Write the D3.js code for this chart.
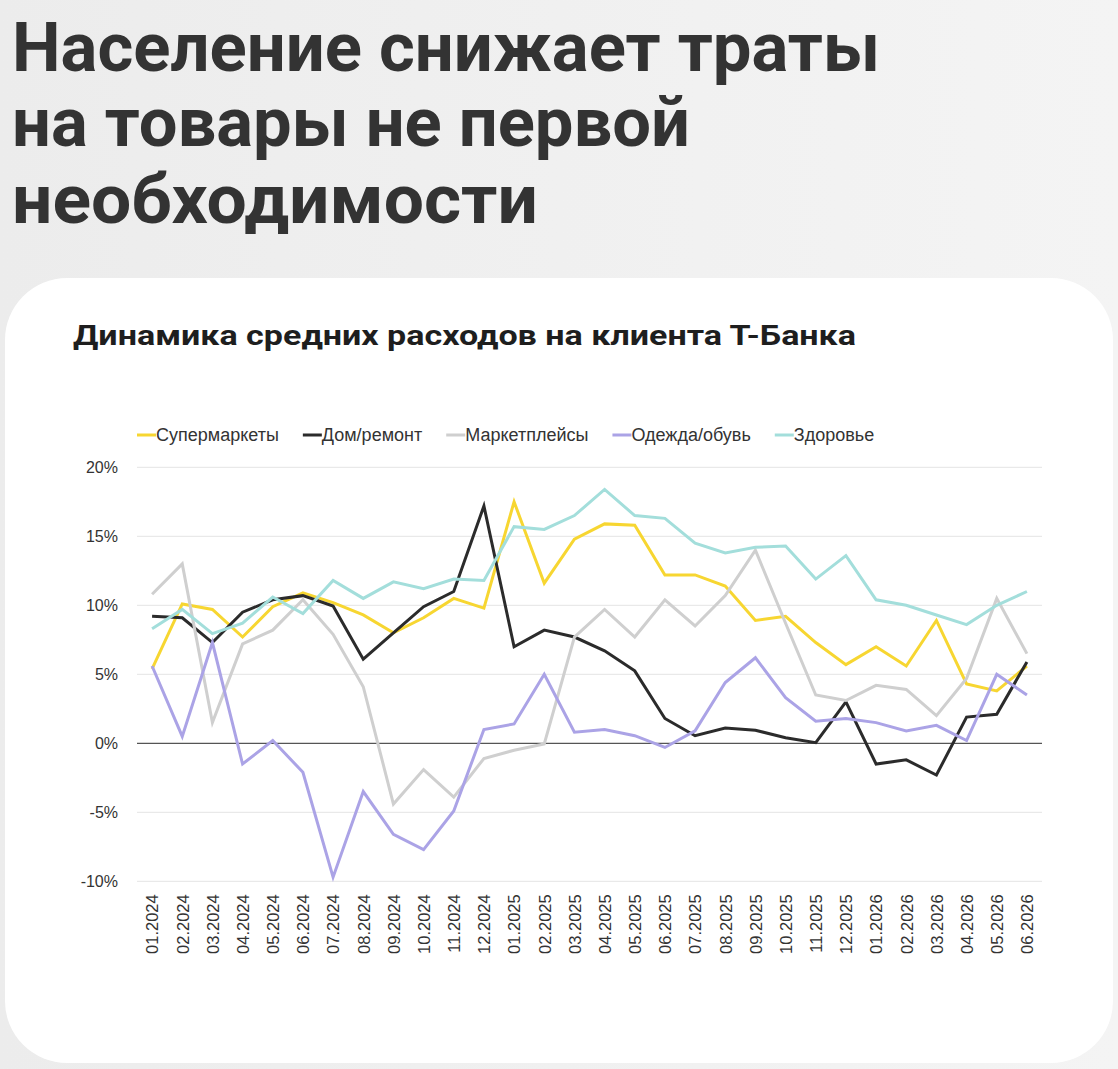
<!DOCTYPE html>
<html><head><meta charset="utf-8">
<script src="https://cdn.jsdelivr.net/npm/d3@7"></script>
<style>
html,body{margin:0;padding:0;background:#eeeeee;}
svg{display:block;}
</style></head>
<body>
<svg id="c" width="1118" height="1069"></svg>
<script>
const months = ["01.2024","02.2024","03.2024","04.2024","05.2024","06.2024","07.2024","08.2024","09.2024","10.2024","11.2024","12.2024",
"01.2025","02.2025","03.2025","04.2025","05.2025","06.2025","07.2025","08.2025","09.2025","10.2025","11.2025","12.2025",
"01.2026","02.2026","03.2026","04.2026","05.2026","06.2026"];
const seriesNames = ["Супермаркеты","Дом/ремонт","Маркетплейсы","Одежда/обувь","Здоровье"];
const supermarkets = [5.4,10.1,9.7,7.7,9.9,10.9,10.2,9.3,8.0,9.1,10.5,9.8,17.5,11.6,14.8,15.9,15.8,12.2,12.2,11.4,8.9,9.2,7.3,5.7,7.0,5.6,8.9,4.3,3.8,5.6];
const homeRepair = [9.2,9.1,7.3,9.5,10.4,10.7,9.95,6.1,8.0,9.9,11.0,17.2,7.0,8.2,7.7,6.7,5.25,1.8,0.55,1.1,0.95,0.4,0.05,3.0,-1.5,-1.2,-2.3,1.9,2.1,5.9];
const marketplaces = [10.8,13.0,1.5,7.2,8.2,10.4,7.9,4.1,-4.4,-1.9,-3.9,-1.1,-0.5,-0.05,7.7,9.7,7.7,10.4,8.5,10.7,14.0,8.7,3.5,3.1,4.2,3.9,2.0,4.7,10.5,6.5];
const clothes = [5.6,0.5,7.3,-1.5,0.2,-2.1,-9.7,-3.5,-6.6,-7.7,-4.9,1.0,1.4,5.0,0.8,1.0,0.55,-0.3,0.9,4.4,6.2,3.3,1.6,1.8,1.5,0.9,1.3,0.2,5.0,3.5];
const health = [8.3,9.7,7.95,8.7,10.6,9.4,11.8,10.5,11.7,11.2,11.9,11.8,15.7,15.5,16.5,18.4,16.5,16.3,14.5,13.8,14.2,14.3,11.9,13.6,10.4,10.0,9.3,8.6,10.0,11.0];
const yTicks = [-10,-5,0,5,10,15,20];
const titleLines = ["Население снижает траты","на товары не первой","необходимости"];
const subtitle = "Динамика средних расходов на клиента Т-Банка";

const colors = ["#f7d631","#2b2b2b","#cfcfcf","#aba3e6","#a3dedb"];
const seriesValues = [supermarkets, homeRepair, marketplaces, clothes, health];

const svg = d3.select("#c");
const defs = svg.append("defs");
const g = defs.append("linearGradient").attr("id","bg").attr("x1","0").attr("y1","0").attr("x2","1").attr("y2","0");
g.append("stop").attr("offset","0").attr("stop-color","#ececec");
g.append("stop").attr("offset","1").attr("stop-color","#f4f4f4");
svg.append("rect").attr("width",1118).attr("height",1069).attr("fill","url(#bg)");

// title
const titleW = [868, 678, 526];
const titleY = [71, 146, 223];
svg.append("g").selectAll("text").data(titleLines).join("text")
  .attr("x",12).attr("y",(d,i)=>titleY[i])
  .attr("textLength",(d,i)=>titleW[i]).attr("lengthAdjust","spacingAndGlyphs")
  .attr("font-family","Roboto, 'Noto Sans', sans-serif").attr("font-weight",700)
  .attr("font-size",68).attr("fill","#333333").text(d=>d);

// card
svg.append("rect").attr("x",5).attr("y",278).attr("width",1108).attr("height",785)
  .attr("rx",62).attr("ry",62).attr("fill","#ffffff");

svg.append("text").attr("x",73).attr("y",345).attr("textLength",783).attr("lengthAdjust","spacingAndGlyphs")
  .attr("font-family","Roboto, 'Noto Sans', sans-serif").attr("font-weight",700)
  .attr("font-size",28).attr("fill","#1e1e1e").text(subtitle);

// scales
const x = d3.scalePoint().domain(months).range([137,1042]).padding(0.5);
const y = d3.scaleLinear().domain([-10,20]).range([881.3,467.3]);

// grid
svg.append("g").selectAll("line").data(yTicks.filter(t=>t!==0)).join("line")
  .attr("x1",137).attr("x2",1042).attr("y1",d=>y(d)).attr("y2",d=>y(d))
  .attr("stroke","#e9e9e9").attr("stroke-width",1.2);

// y axis
const yAxis = svg.append("g").attr("transform","translate(137,0)")
  .call(d3.axisLeft(y).tickValues(yTicks).tickFormat(d=>d+"%").tickSize(0).tickPadding(19));
yAxis.select(".domain").remove();
yAxis.selectAll("text").attr("font-family","'Liberation Sans', Arial, sans-serif").attr("font-size",16).attr("fill","#333");

// x axis
const xAxis = svg.append("g").attr("transform","translate(0,881.3)")
  .call(d3.axisBottom(x).tickSize(0).tickPadding(0));
xAxis.select(".domain").remove();
xAxis.selectAll("text")
  .attr("font-family","'Liberation Sans', Arial, sans-serif").attr("font-size",16.5).attr("fill","#333")
  .attr("text-anchor","end").attr("transform","translate(0,13) rotate(-90)")
  .attr("x",0).attr("y",0).attr("dy","0.35em");

// zero line
svg.append("line").attr("x1",137).attr("x2",1042).attr("y1",y(0)).attr("y2",y(0))
  .attr("stroke","#555").attr("stroke-width",1.3);

// lines
const line = d3.line().x((d,i)=>x(months[i])).y(d=>y(d));
svg.append("g").selectAll("path").data(seriesValues).join("path")
  .attr("d",d=>line(d)).attr("fill","none")
  .attr("stroke",(d,i)=>colors[i]).attr("stroke-width",3).attr("stroke-linejoin","miter");

// legend
const leg = svg.append("g").attr("transform","translate(137,435)");
let cx = 0;
seriesNames.forEach((n,i)=>{
  const it = leg.append("g").attr("transform",`translate(${cx},0)`);
  it.append("line").attr("x1",0).attr("x2",19).attr("y1",0).attr("y2",0).attr("stroke",colors[i]).attr("stroke-width",3);
  const t = it.append("text").attr("x",19).attr("y",0).attr("dy","0.35em")
    .attr("font-family","'Liberation Sans', Arial, sans-serif").attr("font-size",18).attr("fill","#333").text(n);
  cx += 19 + t.node().getComputedTextLength() + 24;
});
</script>
</body></html>
